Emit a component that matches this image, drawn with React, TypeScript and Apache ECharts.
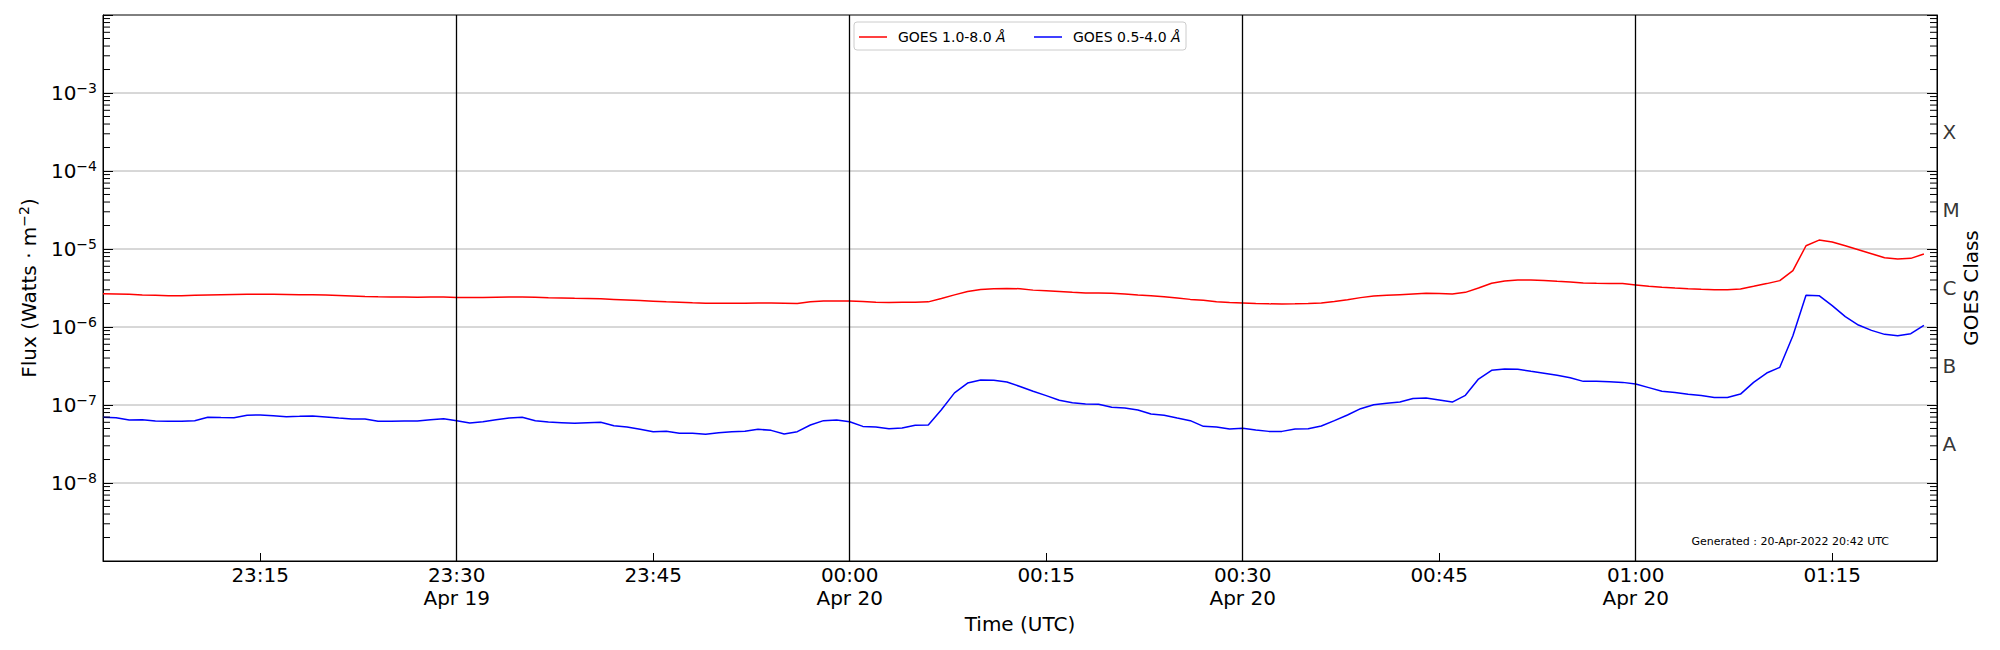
import React, { useEffect, useRef } from "react";
import * as echarts from "echarts";

// Time axis: minutes after 23:00 UTC on 19 Apr 2022
const START_MINUTE = 3;
const X_MIN = 3;
const X_MAX = 143;

const NAME_LONG = "GOES 1.0-8.0 Å";
const NAME_SHORT = "GOES 0.5-4.0 Å";

// 1-minute flux values, W m^-2, from 23:03 to 01:22
const XRAY_LONG = [
  2.66e-6, 2.64e-6, 2.62e-6, 2.58e-6, 2.55e-6, 2.52e-6, 2.52e-6, 2.55e-6, 2.58e-6, 2.6e-6,
  2.61e-6, 2.62e-6, 2.63e-6, 2.62e-6, 2.61e-6, 2.6e-6, 2.59e-6, 2.58e-6, 2.54e-6, 2.5e-6,
  2.46e-6, 2.44e-6, 2.43e-6, 2.42e-6, 2.41e-6, 2.43e-6, 2.43e-6, 2.39e-6, 2.39e-6, 2.39e-6,
  2.41e-6, 2.43e-6, 2.42e-6, 2.4e-6, 2.37e-6, 2.35e-6, 2.33e-6, 2.32e-6, 2.3e-6, 2.26e-6,
  2.22e-6, 2.18e-6, 2.14e-6, 2.1e-6, 2.07e-6, 2.04e-6, 2.02e-6, 2.02e-6, 2.01e-6, 2.02e-6,
  2.03e-6, 2.03e-6, 2.02e-6, 2.0e-6, 2.1e-6, 2.16e-6, 2.16e-6, 2.16e-6, 2.13e-6, 2.08e-6,
  2.06e-6, 2.07e-6, 2.08e-6, 2.1e-6, 2.32e-6, 2.58e-6, 2.85e-6, 3.02e-6, 3.1e-6, 3.12e-6,
  3.1e-6, 2.97e-6, 2.92e-6, 2.85e-6, 2.78e-6, 2.73e-6, 2.73e-6, 2.7e-6, 2.65e-6, 2.58e-6,
  2.52e-6, 2.45e-6, 2.36e-6, 2.26e-6, 2.2e-6, 2.11e-6, 2.06e-6, 2.03e-6, 2.0e-6, 1.98e-6,
  1.97e-6, 1.98e-6, 2.0e-6, 2.03e-6, 2.13e-6, 2.24e-6, 2.38e-6, 2.5e-6, 2.55e-6, 2.6e-6,
  2.65e-6, 2.7e-6, 2.69e-6, 2.65e-6, 2.78e-6, 3.16e-6, 3.63e-6, 3.89e-6, 4.01e-6, 4.01e-6,
  3.95e-6, 3.85e-6, 3.78e-6, 3.66e-6, 3.63e-6, 3.61e-6, 3.6e-6, 3.46e-6, 3.32e-6, 3.23e-6,
  3.16e-6, 3.1e-6, 3.05e-6, 3.01e-6, 3.01e-6, 3.07e-6, 3.32e-6, 3.6e-6, 3.93e-6, 5.28e-6,
  1.1e-5, 1.3e-5, 1.23e-5, 1.1e-5, 9.8e-6, 8.71e-6, 7.74e-6, 7.44e-6, 7.59e-6, 8.63e-6,
];

const XRAY_SHORT = [
  6.95e-8, 6.88e-8, 6.43e-8, 6.49e-8, 6.24e-8, 6.2e-8, 6.18e-8, 6.3e-8, 6.95e-8, 6.9e-8,
  6.88e-8, 7.38e-8, 7.45e-8, 7.27e-8, 7.08e-8, 7.15e-8, 7.23e-8, 7.02e-8, 6.81e-8, 6.62e-8,
  6.62e-8, 6.18e-8, 6.2e-8, 6.22e-8, 6.24e-8, 6.46e-8, 6.68e-8, 6.3e-8, 5.88e-8, 6.11e-8,
  6.46e-8, 6.81e-8, 6.95e-8, 6.3e-8, 6.05e-8, 5.94e-8, 5.82e-8, 5.94e-8, 6.0e-8, 5.43e-8,
  5.22e-8, 4.88e-8, 4.55e-8, 4.6e-8, 4.33e-8, 4.33e-8, 4.21e-8, 4.42e-8, 4.55e-8, 4.6e-8,
  4.88e-8, 4.73e-8, 4.25e-8, 4.55e-8, 5.54e-8, 6.3e-8, 6.43e-8, 6.11e-8, 5.32e-8, 5.22e-8,
  4.97e-8, 5.07e-8, 5.49e-8, 5.54e-8, 8.71e-8, 1.43e-7, 1.91e-7, 2.09e-7, 2.07e-7, 1.97e-7,
  1.73e-7, 1.5e-7, 1.32e-7, 1.15e-7, 1.07e-7, 1.03e-7, 1.02e-7, 9.33e-8, 9.16e-8, 8.63e-8,
  7.67e-8, 7.38e-8, 6.81e-8, 6.3e-8, 5.33e-8, 5.22e-8, 4.92e-8, 5.02e-8, 4.78e-8, 4.59e-8,
  4.59e-8, 4.92e-8, 4.97e-8, 5.38e-8, 6.3e-8, 7.45e-8, 8.97e-8, 1.01e-7, 1.05e-7, 1.09e-7,
  1.21e-7, 1.23e-7, 1.16e-7, 1.09e-7, 1.33e-7, 2.15e-7, 2.78e-7, 2.9e-7, 2.87e-7, 2.7e-7,
  2.55e-7, 2.4e-7, 2.24e-7, 2.01e-7, 2.01e-7, 1.99e-7, 1.95e-7, 1.86e-7, 1.67e-7, 1.5e-7,
  1.45e-7, 1.37e-7, 1.32e-7, 1.25e-7, 1.25e-7, 1.38e-7, 1.95e-7, 2.57e-7, 3.04e-7, 7.74e-7,
  2.55e-6, 2.52e-6, 1.88e-6, 1.36e-6, 1.06e-6, 9.06e-7, 8.05e-7, 7.74e-7, 8.22e-7, 1.05e-6,
];

const X_TICKS = [15, 30, 45, 60, 75, 90, 105, 120, 135];
const X_TICK_LABELS = [
  "23:15",
  "23:30\nApr 19",
  "23:45",
  "00:00\nApr 20",
  "00:15",
  "00:30\nApr 20",
  "00:45",
  "01:00\nApr 20",
  "01:15",
];
const DAY_LINES = [30, 60, 90, 120];

const Y_MIN = 1e-9;
const Y_MAX = 1e-2;
const Y_GRID = [1e-8, 1e-7, 1e-6, 1e-5, 1e-4, 1e-3];
const Y_LABEL_EXPONENTS = [-8, -7, -6, -5, -4, -3];

const CLASS_LABELS = ["A", "B", "C", "M", "X"];
const CLASS_LEVELS = [3.162e-8, 3.162e-7, 3.162e-6, 3.162e-5, 3.162e-4];

const MINOR_MULTIPLIERS = [2, 3, 4, 5, 6, 7, 8, 9];
const MINOR_DECADES = [1e-9, 1e-8, 1e-7, 1e-6, 1e-5, 1e-4, 1e-3];

const GENERATED_TEXT = "Generated : 20-Apr-2022 20:42 UTC";

const FONT = "DejaVu Sans";

export default function App() {
  const ref = useRef<HTMLDivElement>(null);

  useEffect(() => {
    if (!ref.current) return;
    const chart = echarts.init(ref.current, null, { renderer: "svg" });

    const times = XRAY_LONG.map((_, i) => START_MINUTE + i);
    const longData = XRAY_LONG.map((v, i) => [times[i], v]);
    const shortData = XRAY_SHORT.map((v, i) => [times[i], v]);

    const minorTicks: number[][] = [];
    MINOR_DECADES.forEach((d) =>
      MINOR_MULTIPLIERS.forEach((k) => minorTicks.push([X_MIN, k * d]))
    );
    const gridData = Y_GRID.map((v) => [X_MIN, v]);

    const supRich = {
      b: { fontSize: 20, lineHeight: 20, fontFamily: FONT, color: "#000", verticalAlign: "bottom" },
      s: {
        fontSize: 14,
        lineHeight: 14,
        fontFamily: FONT,
        color: "#000",
        verticalAlign: "bottom",
        padding: [0, 0, 8, 0],
      },
    };

    const option: any = {
      animation: false,
      backgroundColor: "#fff",
      grid: {
        left: 103,
        right: 63,
        top: 15,
        bottom: 89,
        show: true,
        borderColor: "#000",
        borderWidth: 1,
        backgroundColor: "transparent",
      },
      legend: {
        data: [NAME_LONG, NAME_SHORT],
        left: 859,
        top: 29,
        z: 10,
        icon: "rect",
        itemWidth: 28,
        itemHeight: 1.5,
        itemGap: 28,
        padding: 0,
        textStyle: {
          fontFamily: FONT,
          fontSize: 14,
          lineHeight: 16,
          color: "#000",
          width: 114,
          overflow: "none",
          rich: {
            sp: { width: 6, fontSize: 14, fontFamily: FONT },
            t: { fontFamily: FONT, fontSize: 14, color: "#000" },
            i: { fontFamily: FONT, fontSize: 14, fontStyle: "italic", color: "#000" },
          },
        },
        formatter: (name: string) => {
          const parts = name.split("Å");
          return "{sp|}{t|" + parts[0] + "}{i|Å}";
        },
      },
      xAxis: {
        type: "value",
        min: X_MIN,
        max: X_MAX,
        z: 3,
        name: "Time (UTC)",
        nameLocation: "middle",
        nameGap: 53,
        nameTextStyle: { fontFamily: FONT, fontSize: 20, color: "#000" },
        axisLine: { show: true, lineStyle: { color: "#000", width: 1 } },
        axisTick: {
          show: true,
          inside: true,
          length: 8,
          customValues: X_TICKS,
          lineStyle: { color: "#000", width: 1 },
        },
        axisLabel: {
          show: true,
          customValues: X_TICKS,
          margin: 2,
          fontFamily: FONT,
          fontSize: 20,
          lineHeight: 23,
          color: "#000",
          formatter: (v: number) => {
            const idx = X_TICKS.indexOf(Math.round(v));
            return idx >= 0 ? X_TICK_LABELS[idx] : "";
          },
        },
        splitLine: { show: false },
      },
      yAxis: [
        {
          type: "log",
          logBase: 10,
          min: Y_MIN,
          max: Y_MAX,
          position: "left",
          z: 3,
          name: "{b|Flux (Watts · m}{s|−2}{b|)}",
          nameLocation: "middle",
          nameGap: 64,
          nameRotate: 90,
          nameTextStyle: { fontFamily: FONT, fontSize: 20, color: "#000", rich: supRich },
          axisLine: { show: true, lineStyle: { color: "#000", width: 1 } },
          axisTick: { show: true, inside: true, length: 10, lineStyle: { color: "#000", width: 1 } },
          minorTick: { show: false },
          splitLine: { show: false },
          axisLabel: {
            show: true,
            margin: 6,
            rich: supRich,
            formatter: (v: number) => {
              const e = Math.round(Math.log10(v));
              if (Y_LABEL_EXPONENTS.indexOf(e) < 0) return "";
              return "{b|10}{s|−" + Math.abs(e) + "}";
            },
          },
        },
        {
          type: "log",
          logBase: 10,
          min: Y_MIN,
          max: Y_MAX,
          position: "right",
          z: 3,
          name: "GOES Class",
          nameLocation: "middle",
          nameGap: 24,
          nameRotate: 90,
          nameTextStyle: { fontFamily: FONT, fontSize: 20, color: "#000" },
          axisLine: { show: true, lineStyle: { color: "#000", width: 1 } },
          axisTick: { show: true, inside: true, length: 10, lineStyle: { color: "#000", width: 1 } },
          minorTick: { show: false },
          splitLine: { show: false },
          axisLabel: { show: false },
        },
      ],
      graphic: [
        {
          type: "rect",
          z: 5,
          shape: { x: 854, y: 22, width: 332, height: 28, r: 3 },
          style: { fill: "rgba(255,255,255,0.8)", stroke: "#cccccc", lineWidth: 1 },
        },
        {
          type: "text",
          right: 111,
          top: 536,
          style: {
            text: GENERATED_TEXT,
            font: "11px 'DejaVu Sans'",
            fill: "#000",
          },
        },
      ],
      series: [
        {
          name: "gridlines",
          type: "custom",
          data: gridData,
          silent: true,
          clip: false,
          z: 1,
          renderItem: (_params: any, api: any) => {
            const v = api.value(1);
            const l = api.coord([X_MIN, v]);
            const r = api.coord([X_MAX, v]);
            return {
              type: "line",
              shape: { x1: l[0], y1: l[1], x2: r[0], y2: r[1] },
              style: { stroke: "#b0b0b0", lineWidth: 1 },
            };
          },
        },
        {
          name: NAME_LONG,
          type: "line",
          data: longData,
          showSymbol: false,
          symbol: "none",
          z: 3,
          lineStyle: { color: "#ff0000", width: 1.5 },
          itemStyle: { color: "#ff0000" },
          markLine: {
            silent: true,
            symbol: ["none", "none"],
            label: { show: false },
            animation: false,
            lineStyle: { color: "#000", width: 1.3, type: "solid" },
            data: DAY_LINES.map((t) => ({
              xAxis: t,
              lineStyle: { color: "#000", width: 1.3, type: "solid" },
            })),
          },
        },
        {
          name: NAME_SHORT,
          type: "line",
          data: shortData,
          showSymbol: false,
          symbol: "none",
          z: 3,
          lineStyle: { color: "#0000ff", width: 1.5 },
          itemStyle: { color: "#0000ff" },
        },
        {
          name: "minorTicks",
          type: "custom",
          data: minorTicks,
          silent: true,
          clip: false,
          z: 4,
          renderItem: (_params: any, api: any) => {
            const v = api.value(1);
            const l = api.coord([X_MIN, v]);
            const r = api.coord([X_MAX, v]);
            return {
              type: "group",
              children: [
                {
                  type: "line",
                  shape: { x1: l[0], y1: l[1], x2: l[0] + 7, y2: l[1] },
                  style: { stroke: "#000", lineWidth: 1 },
                },
                {
                  type: "line",
                  shape: { x1: r[0] - 7, y1: r[1], x2: r[0], y2: r[1] },
                  style: { stroke: "#000", lineWidth: 1 },
                },
              ],
            };
          },
        },
        {
          name: "classLabels",
          type: "scatter",
          data: CLASS_LEVELS.map((v, i) => ({ value: [X_MAX, v], name: CLASS_LABELS[i] })),
          symbolSize: 1,
          silent: true,
          clip: false,
          itemStyle: { color: "rgba(0,0,0,0)" },
          label: {
            show: true,
            position: "right",
            distance: 5,
            formatter: "{b}",
            fontFamily: FONT,
            fontSize: 20,
            color: "#000",
          },
        },
      ],
    };

    chart.setOption(option);
    return () => {
      chart.dispose();
    };
  }, []);

  return (
    <div
      ref={ref}
      style={{ position: "fixed", left: 0, top: 0, width: 2000, height: 650, background: "#fff" }}
    />
  );
}
